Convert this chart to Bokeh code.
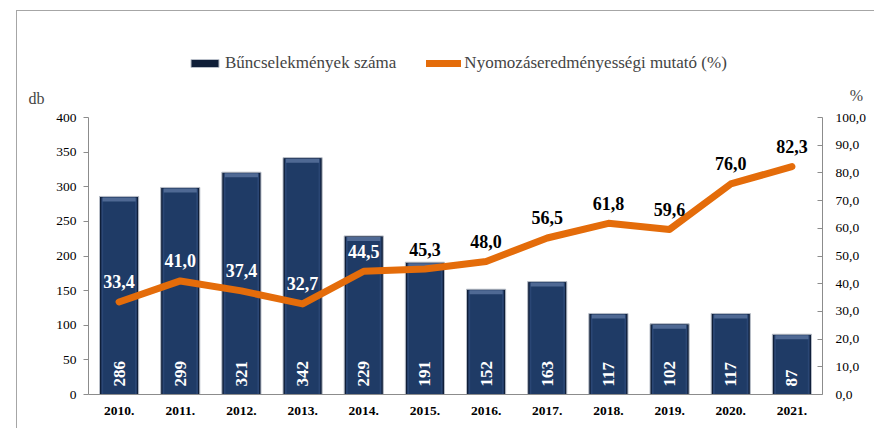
from bokeh.plotting import figure
from bokeh.models import (ColumnDataSource, Range1d, LinearAxis, SingleIntervalTicker, FixedTicker,
                          CustomJSTickFormatter, Label, Legend, LegendItem)
from bokeh.core.properties import value
from bokeh.embed import file_html
from bokeh.resources import INLINE
import math

years = ["2010.", "2011.", "2012.", "2013.", "2014.", "2015.", "2016.", "2017.",
         "2018.", "2019.", "2020.", "2021."]
crimes = [286, 299, 321, 342, 229, 191, 152, 163, 117, 102, 117, 87]
rate = [33.4, 41.0, 37.4, 32.7, 44.5, 45.3, 48.0, 56.5, 61.8, 59.6, 76.0, 82.3]

FNAME = "Liberation Serif"
FONT = value(FNAME)
NAVY = "#1F3B66"
ORANGE = "#E46C0A"
AXIS = "#8C8C8C"

W, H = 858, 418
# plot area inside the figure (pixels)
FL, FR, FT, FB = 71, 805, 106, 383
n = len(years)
xpx = (FR - FL) / n
ypx = (FB - FT) / 400.0

x_start = -0.5 - FL / xpx
x_end = n - 0.5 + (W - FR) / xpx
y_start = -(H - FB) / ypx
y_end = 400 + FT / ypx

top_off = 1.0 / ypx
band = 5.0 / ypx

xs = list(range(n))
rate_labels = [f"{v:.1f}".replace(".", ",") for v in rate]
label_colors = []
for c, r in zip(crimes, rate):
    label_top = r * 4 + 29 / ypx
    label_colors.append("white" if c > label_top else "black")

src = ColumnDataSource(dict(
    x=xs, crimes=crimes, rate=rate,
    inner_top=[c - top_off for c in crimes],
    band_bottom=[c - band for c in crimes],
    zero=[0] * n,
    clabel=[str(c) for c in crimes],
    rlabel=rate_labels, rcolor=label_colors,
))

p = figure(x_range=Range1d(x_start, x_end), y_range=Range1d(y_start, y_end),
           width=W, height=H, output_backend="svg", toolbar_location=None,
           x_axis_type=None, y_axis_type=None,
           min_border_left=0, min_border_right=0, min_border_top=0, min_border_bottom=0,
           margin=(10, 0, 0, 16))
p.styles = {"border-left": "1px solid #A6A6A6", "border-top": "1px solid #A6A6A6"}
p.outline_line_color = None
p.grid.visible = False
p.background_fill_color = "white"
p.border_fill_color = "white"

p.extra_y_ranges = {"pct": Range1d(y_start / 4, y_end / 4)}

# bars (with a simple bevel look)
bars = p.vbar(x="x", top="crimes", width=0.64, source=src, fill_color="#0F1E38",
              line_color="#B8BEC8", line_width=1)
p.vbar(x="x", top="inner_top", bottom=0, width=0.58, source=src, fill_color="#2A4674", line_color=None)
p.vbar(x="x", top="inner_top", bottom=0, width=0.52, source=src, fill_color=NAVY, line_color=None)
p.vbar(x="x", top="inner_top", bottom="band_bottom", width=0.54, source=src,
       fill_color="#6F88B2", fill_alpha=0.6, line_color=None)

p.text(x="x", y="zero", text="clabel", source=src, angle=math.pi / 2,
       text_align="left", text_baseline="middle", y_offset=-8,
       text_font=FONT, text_font_size="17px", text_font_style="bold", text_color="white")

# line
ln = p.line(x="x", y="rate", source=src, y_range_name="pct", line_color=ORANGE,
            line_width=7, line_cap="round", line_join="round")
p.text(x="x", y="rate", text="rlabel", source=src, y_range_name="pct",
       text_align="center", text_baseline="middle", y_offset=-20,
       text_font=FONT, text_font_size="18px", text_font_style="bold", text_color="rcolor")

# axes
ly = LinearAxis(ticker=SingleIntervalTicker(interval=50), fixed_location=-0.5, bounds=(0, 400))
ly.axis_line_color = AXIS
ly.major_tick_line_color = AXIS
ly.minor_tick_line_color = None
ly.major_tick_out = 5
ly.major_tick_in = 0
ly.major_label_standoff = 7
ly.major_label_text_font = FNAME
ly.major_label_text_font_size = "13.5px"
ly.major_label_text_color = "black"
p.add_layout(ly, "left")

ry = LinearAxis(y_range_name="pct", ticker=SingleIntervalTicker(interval=10),
                fixed_location=n - 0.5, bounds=(0, 100),
                formatter=CustomJSTickFormatter(code="return tick.toFixed(1).replace('.', ',');"))
ry.axis_line_color = AXIS
ry.major_tick_line_color = AXIS
ry.minor_tick_line_color = None
ry.major_tick_in = 5
ry.major_tick_out = 0
ry.major_label_standoff = 9
ry.major_label_text_font = FNAME
ry.major_label_text_font_size = "13.5px"
ry.major_label_text_color = "black"
p.add_layout(ry, "right")

xa = LinearAxis(ticker=FixedTicker(ticks=xs), fixed_location=0, bounds=(-0.5, n - 0.5),
                major_label_overrides={i: y for i, y in zip(xs, years)})
xa.axis_line_color = AXIS
xa.major_tick_line_color = None
xa.minor_tick_line_color = None
xa.major_label_standoff = 6
xa.major_label_text_font = FNAME
xa.major_label_text_font_size = "13.5px"
xa.major_label_text_font_style = "bold"
xa.major_label_text_color = "black"
p.add_layout(xa, "below")

# axis unit labels
p.add_layout(Label(x=11, y=H - 87, x_units="screen", y_units="screen", text="db",
                   text_font=FNAME, text_font_size="16px",
                   text_align="left", text_baseline="middle"))
p.add_layout(Label(x=839, y=H - 84, x_units="screen", y_units="screen", text="%",
                   text_font=FNAME, text_font_size="16px",
                   text_align="center", text_baseline="middle"))

legend = Legend(items=[LegendItem(label="Bűncselekmények száma", renderers=[bars]),
                       LegendItem(label="Nyomozáseredményességi mutató (%)", renderers=[ln])],
                location=(170, H - 62), orientation="horizontal",
                padding=0, margin=0, spacing=30, label_standoff=3,
                glyph_width=35, glyph_height=10,
                label_text_font=FNAME, label_text_font_size="17px",
                border_line_color=None, background_fill_alpha=0)
p.add_layout(legend, "center")

open("out.html", "w").write(file_html(p, INLINE))
